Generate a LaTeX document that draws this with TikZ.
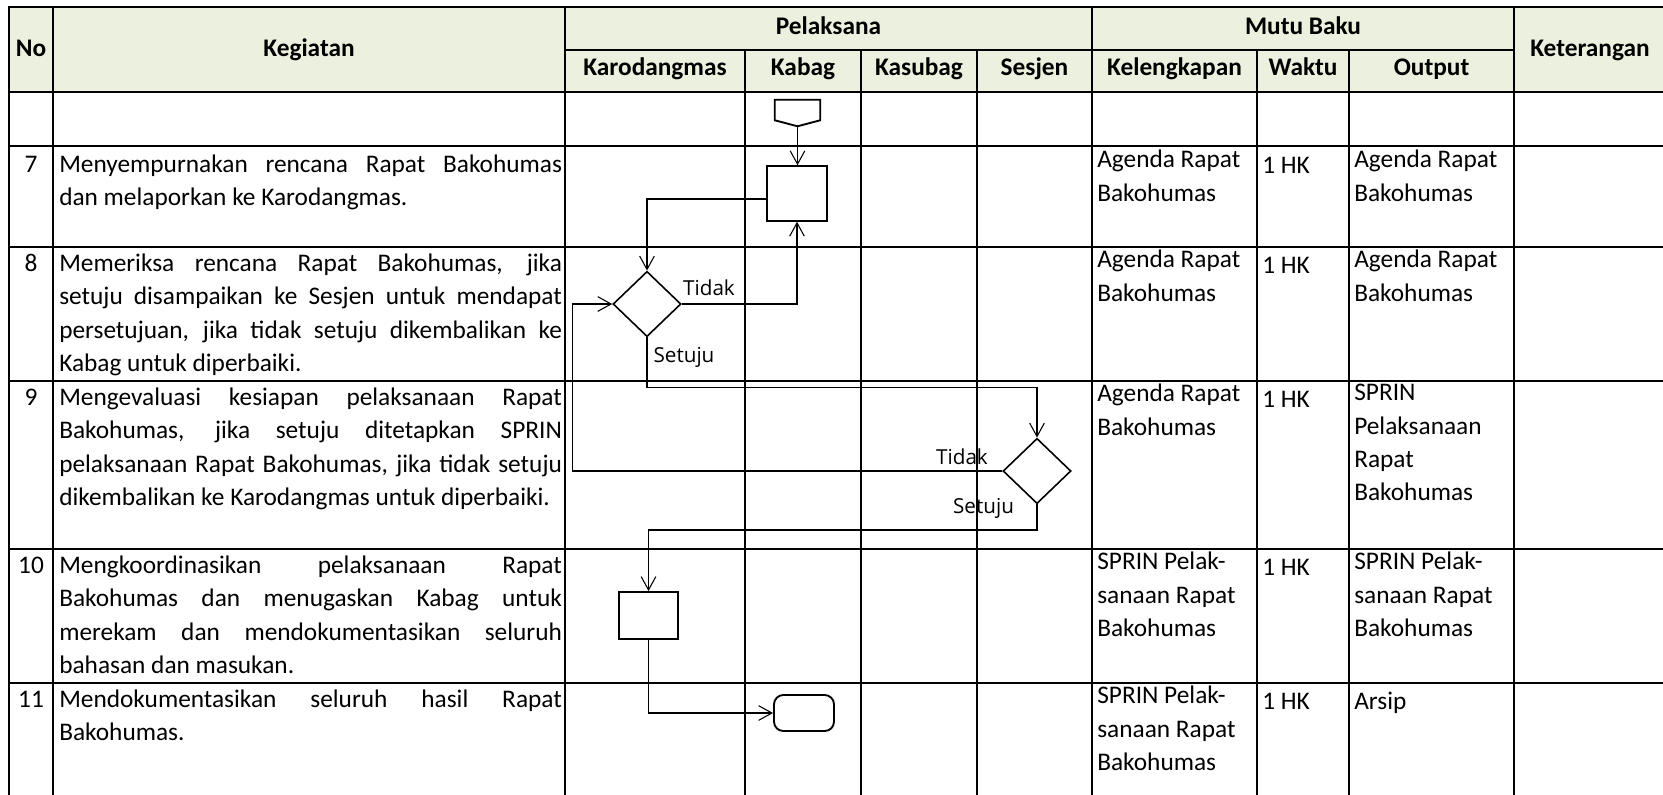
\documentclass[tikz,border=0pt]{standalone}
\usepackage{fontspec}
\setmainfont{Carlito}
\newfontfamily\flowfont{Open Sans}
\usetikzlibrary{shapes.geometric,arrows.meta,calc}

\definecolor{headfill}{RGB}{235,241,222}
\newcommand\cellfont{\fontsize{19}{25}\selectfont}
% one justified line of the Kegiatan column
\newcommand\spreadline[1]{\leavevmode{\spaceskip=\fontdimen2\font plus 1fil\relax\hbox to 377pt{#1}}}

\tikzset{
  gridline/.style={line width=1.5pt,line cap=rect},
  flow/.style={line width=.8pt},
  flowarrow/.style={flow,-{Straight Barb[length=10pt,width=11pt]}},
  procbox/.style={draw,line width=1.4pt,inner sep=0pt,minimum width=45pt,minimum height=41pt},
  endbox/.style={draw,line width=1.4pt,rounded corners=7pt,inner sep=0pt,minimum width=45pt,minimum height=27pt},
  decision/.style={diamond,draw,line width=1.2pt,inner sep=0pt,shape aspect=1,minimum width=51pt,minimum height=49pt},
  headtext/.style={font=\cellfont\bfseries,inner sep=0pt,text height=13pt,text depth=4pt},
  cell/.style={anchor=north west,inner sep=0pt,font=\cellfont,align=flush left,execute at begin node=\strut},
  nocell/.style={anchor=north,inner sep=0pt,font=\cellfont,execute at begin node=\strut},
  flowlabel/.style={font=\flowfont\fontsize{15.5}{18}\selectfont,inner sep=0pt}
}

\begin{document}
\begin{tikzpicture}[x=.75pt,y=-.75pt]
  \useasboundingbox (0,0) rectangle (1663,794);
  \fill[headfill] (9,7) rectangle (1663,92);

  % header
  \node[headtext] (hno)   at (31,50)    {No};
  \node[headtext] (hkeg)  at (309,50)   {Kegiatan};
  \node[headtext] (hpel)  at (828.5,28) {Pelaksana};
  \node[headtext] (hkaro) at (655,69)   {Karodangmas};
  \node[headtext] (hkab)  at (803,69)   {Kabag};
  \node[headtext] (hksb)  at (919,69)   {Kasubag};
  \node[headtext] (hses)  at (1034.5,69) {Sesjen};
  \node[headtext] (hmutu) at (1303,28)  {Mutu Baku};
  \node[headtext] (hkel)  at (1174.5,69) {Kelengkapan};
  \node[headtext] (hwak)  at (1303,69)  {Waktu};
  \node[headtext] (hout)  at (1431.5,69) {Output};
  \node[headtext] (hket)  at (1590,50)  {Keterangan};

  % rows
  \node[nocell] (no7) at (31,149) {7};
  \node[cell,text width=377pt] (keg7) at (59,149)
    {\spreadline{Menyempurnakan rencana Rapat Bakohumas}\\
     dan melaporkan ke Karodangmas.};
  \node[cell] (kel7) at (1097,150) {Agenda Rapat\\Bakohumas};
  \node[cell] (wak7) at (1262,150) {1 HK};
  \node[cell] (out7) at (1354,150) {Agenda Rapat\\Bakohumas};

  \node[nocell] (no8) at (31,248) {8};
  \node[cell,text width=377pt] (keg8) at (59,248)
    {\spreadline{Memeriksa rencana Rapat Bakohumas, jika}\\
     \spreadline{setuju disampaikan ke Sesjen untuk mendapat}\\
     \spreadline{persetujuan, jika tidak setuju dikembalikan ke}\\
     Kabag untuk diperbaiki.};
  \node[cell] (kel8) at (1097,250) {Agenda Rapat\\Bakohumas};
  \node[cell] (wak8) at (1262,250) {1 HK};
  \node[cell] (out8) at (1354,250) {Agenda Rapat\\Bakohumas};

  \node[nocell] (no9) at (31,382) {9};
  \node[cell,text width=377pt] (keg9) at (59,382)
    {\spreadline{Mengevaluasi kesiapan pelaksanaan Rapat}\\
     \spreadline{Bakohumas, jika setuju ditetapkan SPRIN}\\
     \spreadline{pelaksanaan Rapat Bakohumas, jika tidak setuju}\\
     dikembalikan ke Karodangmas untuk diperbaiki.};
  \node[cell] (kel9) at (1097,384) {Agenda Rapat\\Bakohumas};
  \node[cell] (wak9) at (1262,384) {1 HK};
  \node[cell] (out9) at (1354,384) {SPRIN\\Pelaksanaan\\Rapat\\Bakohumas};

  \node[nocell] (no10) at (31,550) {10};
  \node[cell,text width=377pt] (keg10) at (59,550)
    {\spreadline{Mengkoordinasikan pelaksanaan Rapat}\\
     \spreadline{Bakohumas dan menugaskan Kabag untuk}\\
     \spreadline{merekam dan mendokumentasikan seluruh}\\
     bahasan dan masukan.};
  \node[cell] (kel10) at (1097,552) {SPRIN Pelak-\\sanaan Rapat\\Bakohumas};
  \node[cell] (wak10) at (1262,552) {1 HK};
  \node[cell] (out10) at (1354,552) {SPRIN Pelak-\\sanaan Rapat\\Bakohumas};

  \node[nocell] (no11) at (31,684) {11};
  \node[cell,text width=377pt] (keg11) at (59,684)
    {\spreadline{Mendokumentasikan seluruh hasil Rapat}\\
     Bakohumas.};
  \node[cell] (kel11) at (1097,686) {SPRIN Pelak-\\sanaan Rapat\\Bakohumas};
  \node[cell] (wak11) at (1262,686) {1 HK};
  \node[cell] (out11) at (1354,686) {Arsip};

  % flow
  \node[inner sep=0pt,minimum width=33.75pt,minimum height=15pt] (offpage) at (797.5,110) {};
  \coordinate (offtip) at ($(offpage.south)+(0,6)$);
  \draw[line width=1.4pt] (offpage.north west) -- (offpage.north east)
    -- (offpage.south east) -- (offtip) -- (offpage.south west) -- cycle;
  \node[procbox] (kabag7) at (797,193.5) {};
  \node[decision] (cek8) at (647,304) {};
  \node[decision] (cek9) at (1037,471) {};
  \node[procbox,minimum width=44.25pt,minimum height=35.25pt] (koord10) at (648.5,615.5) {};
  \node[endbox] (arsip11) at (804,713) {};

  \draw[flowarrow] (offtip) -- (offtip |- kabag7.north);
  \draw[flowarrow] ($(kabag7.west)+(0,5.5)$) -| (cek8.north);
  \draw[flowarrow] (cek8.east) -| (kabag7.south);
  \draw[flowarrow] (cek8.south) -- ++(0,50) -| (cek9.north);
  \draw[flowarrow] (cek9.west) -- ++(-429.5,0) |- (cek8.west);
  \draw[flowarrow] (cek9.south) -- ++(0,25.5) -| (koord10.north);
  \draw[flowarrow] (koord10.south) |- (arsip11.west);

  \node[flowlabel] (tidak8)  at (709,288)   {Tidak};
  \node[flowlabel] (setuju8) at (684,357)   {Setuju};
  \node[flowlabel] (tidak9)  at (962,457)   {Tidak};
  \node[flowlabel] (setuju9) at (983.5,508) {Setuju};

  % grid
  \draw[gridline] (9,7) -- (1663,7);
  \draw[gridline] (565,50) -- (1514,50);
  \foreach \y in {92,146,247,381,549,683}
    \draw[gridline] (9,\y) -- (1663,\y);
  \foreach \x in {9,53,565,1092,1514}
    \draw[gridline] (\x,7) -- (\x,794);
  \foreach \x in {745,861,977,1257,1349}
    \draw[gridline] (\x,50) -- (\x,794);
\end{tikzpicture}
\end{document}
